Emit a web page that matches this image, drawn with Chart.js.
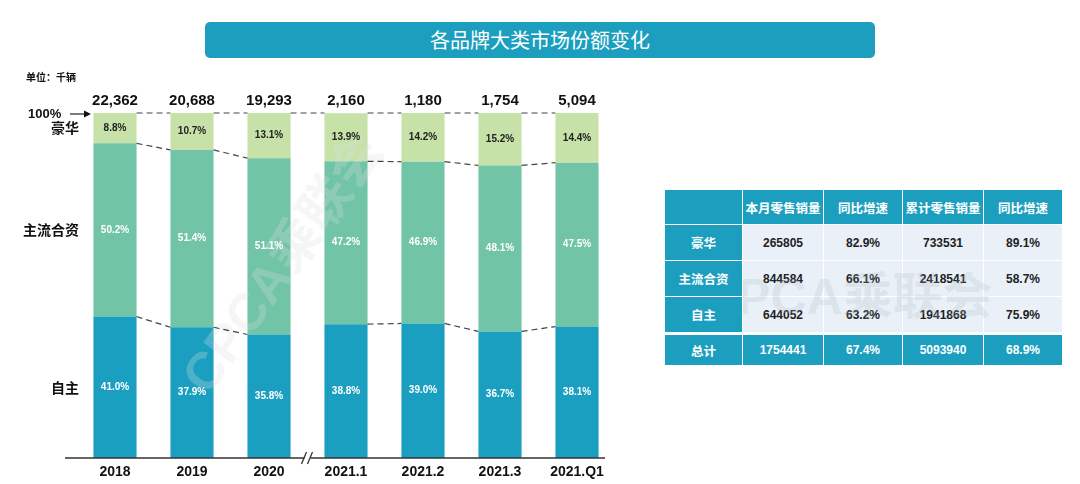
<!DOCTYPE html>
<html>
<head>
<meta charset="utf-8">
<script src="https://cdn.jsdelivr.net/npm/chart.js@4.4.1/dist/chart.umd.min.js"></script>
<style>
    body { margin: 0; width: 1080px; height: 484px; background: #fff; position: relative; overflow: hidden;
           font-family: "Liberation Sans", "Noto Sans CJK SC", sans-serif; }
    #title { position: absolute; left: 205px; top: 22px; width: 670px; height: 36px; background: #1c9fbf;
             border-radius: 5px; color: #fff; font-family: "Noto Sans CJK SC", sans-serif; font-size: 20px;
             line-height: 36px; text-align: center; }
    #chartWrap { position: absolute; left: 0; top: 0; width: 620px; height: 484px; }
    #tbl { position: absolute; left: 664px; top: 189px; border-collapse: separate; border-spacing: 1px; }
    #tbl td { height: 35px; text-align: center; font-size: 12px; font-weight: bold; color: #222;
              background: #e9f0f8; padding: 0; }
    #tbl td.h { background: #1c9fbf; color: #fff; font-family: "Noto Sans CJK SC", sans-serif; font-size: 12.5px; }
    #tbl tr.head td { height: 34px; }
    #tbl tr.gap td { height: 1px; background: #fff; }
    #tbl tr.total td { background: #1c9fbf; color: #fff; }
    #wm { position: absolute; left: 743px; top: 252px; width: 320px; height: 80px; overflow: hidden;
          pointer-events: none; }
    #wm span { position: absolute; left: -42px; top: 4px; font: bold 50px "Liberation Sans", "Noto Sans CJK SC";
               color: rgba(170, 180, 190, 0.22); white-space: nowrap; }
</style>
</head>
<body>
<div id="title">各品牌大类市场份额变化</div>
<div id="chartWrap"><canvas id="shareChart" width="620" height="484"></canvas></div>
<table id="tbl"></table>
<div id="wm"><span>CPCA乘联会</span></div>
<script>
// categories and series (share %, totals in thousand units)
const categories = ['2018', '2019', '2020', '2021.1', '2021.2', '2021.3', '2021.Q1'];
const totals = ['22,362', '20,688', '19,293', '2,160', '1,180', '1,754', '5,094'];
const ownBrand = [41.0, 37.9, 35.8, 38.8, 39.0, 36.7, 38.1];
const jointVenture = [50.2, 51.4, 51.1, 47.2, 46.9, 48.1, 47.5];
const luxury = [8.8, 10.7, 13.1, 13.9, 14.2, 15.2, 14.4];
const seriesNames = ['自主', '主流合资', '豪华'];

// table data
const tableHead = ['', '本月零售销量', '同比增速', '累计零售销量', '同比增速'];
const tableRows = [
    ['豪华', '265805', '82.9%', '733531', '89.1%'],
    ['主流合资', '844584', '66.1%', '2418541', '58.7%'],
    ['自主', '644052', '63.2%', '1941868', '75.9%']
];
const tableTotal = ['总计', '1754441', '67.4%', '5093940', '68.9%'];

const colWidths = [77, 80, 78, 80, 78];

function buildTable() {
    const tbl = document.getElementById('tbl');
    let html = '<tr class="head">';
    tableHead.forEach((t, i) => { html += `<td class="h" style="width:${colWidths[i]}px">${t}</td>`; });
    html += '</tr>';
    tableRows.forEach(r => {
        html += '<tr>';
        r.forEach((t, i) => { html += `<td class="${i === 0 ? 'h' : ''}">${t}</td>`; });
        html += '</tr>';
    });
    html += '<tr class="gap"><td colspan="5"></td></tr>';
    html += '<tr class="total">';
    tableTotal.forEach((t, i) => { html += `<td class="${i === 0 ? 'h' : ''}" style="height:30px">${t}</td>`; });
    html += '</tr>';
    tbl.innerHTML = html;
}
buildTable();

const breakAfter = 2; // axis break between 2020 and 2021.1

const decorPlugin = {
    id: 'decor',
    afterDatasetsDraw(chart) {
        const ctx = chart.ctx;
        const x = chart.scales.x;
        const y = chart.scales.y;
        const metas = [0, 1, 2].map(i => chart.getDatasetMeta(i).data);
        ctx.save();

        // faint watermark
        ctx.save();
        ctx.translate(285, 265);
        ctx.rotate(-0.95);
        ctx.font = 'bold 52px "Liberation Sans", "Noto Sans CJK SC"';
        ctx.fillStyle = 'rgba(215, 222, 228, 0.28)';
        ctx.textAlign = 'center';
        ctx.textBaseline = 'middle';
        ctx.fillText('CPCA乘联会', 0, 0);
        ctx.restore();

        // percentage labels inside segments
        ctx.textAlign = 'center';
        ctx.textBaseline = 'middle';
        ctx.font = 'bold 10px "Liberation Sans"';
        metas.forEach((bars, di) => {
            bars.forEach((b, j) => {
                const v = chart.data.datasets[di].data[j];
                ctx.fillStyle = di === 2 ? '#222' : '#fff';
                ctx.fillText(v.toFixed(1) + '%', b.x, (b.y + b.base) / 2);
            });
        });

        // dashed connectors
        ctx.strokeStyle = '#444';
        ctx.lineWidth = 1.2;
        ctx.setLineDash([6, 4]);
        const n = categories.length;
        for (let j = 0; j < n - 1; j++) {
            const a = metas[2][j], b = metas[2][j + 1];
            ctx.beginPath();
            ctx.moveTo(a.x + a.width / 2, y.getPixelForValue(100));
            ctx.lineTo(b.x - b.width / 2, y.getPixelForValue(100));
            ctx.stroke();
            if (j === breakAfter) continue;
            [0, 1].forEach(di => {
                const p = metas[di][j], q = metas[di][j + 1];
                ctx.beginPath();
                ctx.moveTo(p.x + p.width / 2, p.y);
                ctx.lineTo(q.x - q.width / 2, q.y);
                ctx.stroke();
            });
        }
        ctx.setLineDash([]);

        // baseline axis with break mark
        const base = y.getPixelForValue(0);
        const bx = (x.getPixelForValue(breakAfter) + x.getPixelForValue(breakAfter + 1)) / 2;
        ctx.strokeStyle = '#333';
        ctx.lineWidth = 1.3;
        ctx.beginPath();
        ctx.moveTo(65, base);
        ctx.lineTo(605, base);
        ctx.stroke();
        ctx.fillStyle = '#fff';
        ctx.fillRect(bx - 3, base - 2, 6, 4);
        ctx.beginPath();
        ctx.moveTo(bx - 6, base + 6); ctx.lineTo(bx - 1, base - 6);
        ctx.moveTo(bx + 0, base + 6); ctx.lineTo(bx + 5, base - 6);
        ctx.stroke();

        // category labels and totals
        ctx.fillStyle = '#111';
        ctx.textBaseline = 'middle';
        ctx.font = 'bold 14px "Liberation Sans"';
        categories.forEach((c, j) => ctx.fillText(c, x.getPixelForValue(j), base + 14));
        ctx.font = 'bold 15px "Liberation Sans"';
        totals.forEach((t, j) => ctx.fillText(t, x.getPixelForValue(j), y.getPixelForValue(100) - 12));

        // series names at left
        ctx.textAlign = 'right';
        ctx.font = 'bold 14px "Noto Sans CJK SC"';
        metas.forEach((bars, di) => {
            const b = bars[0];
            ctx.fillText(seriesNames[di], 79, (b.y + b.base) / 2);
        });

        // 100% arrow
        const topY = y.getPixelForValue(100);
        ctx.textAlign = 'left';
        ctx.font = 'bold 13px "Liberation Sans"';
        ctx.fillText('100%', 28, topY + 1);
        ctx.lineWidth = 1.3;
        ctx.beginPath();
        ctx.moveTo(70, topY + 1);
        ctx.lineTo(86, topY + 1);
        ctx.stroke();
        ctx.fillStyle = '#111';
        ctx.beginPath();
        ctx.moveTo(91, topY + 1);
        ctx.lineTo(84, topY - 2.5);
        ctx.lineTo(84, topY + 4.5);
        ctx.closePath();
        ctx.fill();

        // unit note
        ctx.font = 'bold 10px "Noto Sans CJK SC"';
        ctx.fillText('单位：千辆', 26, 77);
        ctx.restore();
    }
};

new Chart(document.getElementById('shareChart'), {
    type: 'bar',
    data: {
        labels: categories,
        datasets: [
            { label: seriesNames[0], data: ownBrand, backgroundColor: '#1b9fc0' },
            { label: seriesNames[1], data: jointVenture, backgroundColor: '#72c4a7' },
            { label: seriesNames[2], data: luxury, backgroundColor: '#c6e2a8' }
        ]
    },
    options: {
        responsive: false,
        animation: false,
        layout: { padding: { left: 76.5, right: 4.5, top: 113, bottom: 26 } },
        datasets: { bar: { barPercentage: 1, categoryPercentage: 0.56 } },
        plugins: { legend: { display: false }, tooltip: { enabled: false } },
        scales: {
            x: { stacked: true, display: false },
            y: { stacked: true, display: false, min: 0, max: 100 }
        }
    },
    plugins: [decorPlugin]
});
</script>
</body>
</html>
